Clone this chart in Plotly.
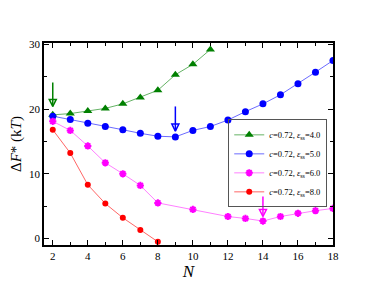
import plotly.graph_objects as go

N_green = [2, 3, 4, 5, 6, 7, 8, 9, 10, 11]
y_green = [19.1, 19.3, 19.7, 20.1, 20.8, 21.8, 22.9, 25.3, 26.9, 29.2]
N_blue = list(range(2, 19))
y_blue = [18.9, 18.4, 17.8, 17.3, 16.8, 16.25, 15.8, 15.7, 16.7, 17.3, 18.3, 19.6, 20.8, 22.2, 23.9, 25.7, 27.5]
N_mag = [2, 3, 4, 5, 6, 7, 8, 10, 12, 13, 14, 15, 16, 17, 18]
y_mag = [18.1, 16.7, 14.3, 11.7, 10.0, 8.2, 5.5, 4.5, 3.4, 3.1, 2.7, 3.4, 3.9, 4.3, 4.65]
N_red = [2, 3, 4, 5, 6, 7, 8]
y_red = [16.8, 13.2, 8.3, 5.4, 3.2, 1.3, -0.5]
labels = ["<i>c</i>=0.72, <i>ε</i><sub>ss</sub>=4.0",
          "<i>c</i>=0.72, <i>ε</i><sub>ss</sub>=5.0",
          "<i>c</i>=0.72, <i>ε</i><sub>ss</sub>=6.0",
          "<i>c</i>=0.72, <i>ε</i><sub>ss</sub>=8.0"]
# arrows marking minima: (N, y_start, y_tip, color)
arrows = [(2, 24.1, 20.4, "#008000"), (9, 20.4, 16.6, "#0000ff"), (14, 6.5, 3.4, "#ff00ff")]

font_family = "Liberation Serif, Times New Roman, serif"
fig = go.Figure()
fig.add_trace(go.Scatter(x=N_green, y=y_green, mode="lines+markers", name=labels[0],
                         line=dict(color="#66b366", width=1),
                         marker=dict(symbol="triangle-up", size=8, color="#008000")))
fig.add_trace(go.Scatter(x=N_blue, y=y_blue, mode="lines+markers", name=labels[1],
                         line=dict(color="#6b6bff", width=1),
                         marker=dict(symbol="circle", size=7, color="#0000ff")))
fig.add_trace(go.Scatter(x=N_mag, y=y_mag, mode="lines+markers", name=labels[2],
                         line=dict(color="#ff80ff", width=1),
                         marker=dict(symbol="asterisk-open", size=6, color="#ff00ff",
                                     line=dict(color="#ff00ff", width=2))))
fig.add_trace(go.Scatter(x=N_red, y=y_red, mode="lines+markers", name=labels[3],
                         line=dict(color="#ff6666", width=1),
                         marker=dict(symbol="circle", size=6, color="#ff0000")))

for n, y0, y1, c in arrows:
    fig.add_trace(go.Scatter(x=[n, n], y=[y0, y1], mode="lines", showlegend=False,
                             hoverinfo="skip", line=dict(color=c, width=1.5)))
    fig.add_trace(go.Scatter(x=[n], y=[y1], mode="markers", showlegend=False,
                             hoverinfo="skip",
                             marker=dict(symbol="arrow-down-open", size=7, color=c,
                                         line=dict(color=c, width=1.5))))

axis_common = dict(showline=True, linecolor="black", linewidth=1.5, mirror="ticks",
                   ticks="inside", tickcolor="black", showgrid=False, zeroline=False,
                   tickfont=dict(family=font_family, size=11, color="black"))
fig.update_xaxes(range=[1.5, 18], tick0=2, dtick=2, ticklen=5,
                 minor=dict(dtick=1, ticks="inside", ticklen=3, tickcolor="black"),
                 title=dict(text="<i>N</i>", font=dict(family=font_family, size=17, color="black"),
                            standoff=2),
                 **axis_common)
fig.update_yaxes(range=[-1, 30.2], tick0=0, dtick=10, ticklen=5,
                 minor=dict(dtick=5, ticks="inside", ticklen=3, tickcolor="black"),
                 title=dict(text="Δ<i>F</i>* (k<i>T</i>)", font=dict(family=font_family, size=15, color="black"),
                            standoff=4),
                 **axis_common)
fig.update_layout(width=374, height=289, margin=dict(l=44, r=41, t=43, b=44),
                  plot_bgcolor="white", paper_bgcolor="white",
                  legend=dict(x=0.98, y=0.622, xanchor="right", yanchor="top",
                              bgcolor="rgba(255,255,255,0)", bordercolor="#555555", borderwidth=1,
                              font=dict(family=font_family, size=8.5, color="black"),
                              itemwidth=30, tracegroupgap=0),
                  showlegend=True)
fig.write_html("out.html", config={"displayModeBar": False},
               post_script="document.body.style.margin='0';")
